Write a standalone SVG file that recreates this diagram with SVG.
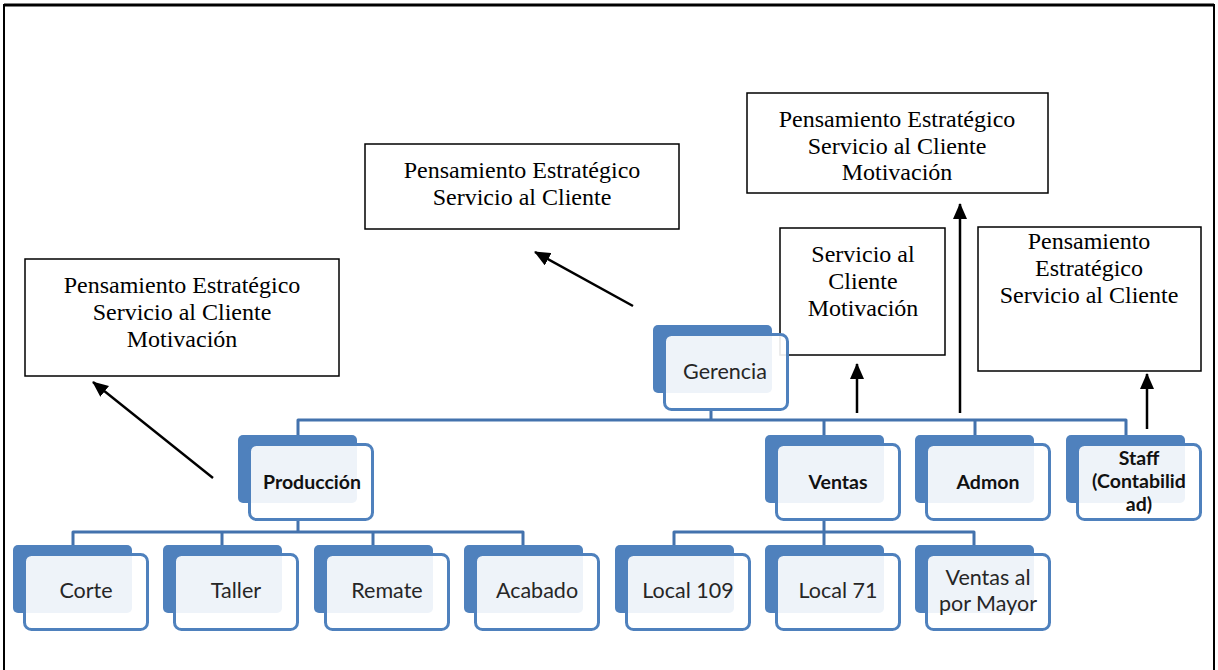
<svg xmlns="http://www.w3.org/2000/svg" width="1218" height="670" viewBox="0 0 1218 670">
<defs>
<style>
.bk{fill:#4f81bd}
.fr{fill:#ffffff;fill-opacity:0.9;stroke:#4f81bd;stroke-width:3}
.nt{font-family:Lato,"Open Sans",sans-serif;font-size:21.5px;fill:#262626;text-anchor:middle}
.mt{font-family:Lato,"Open Sans",sans-serif;font-size:19.5px;font-weight:bold;fill:#111;text-anchor:middle}
.bus{fill:none;stroke:#4372ad;stroke-width:3;stroke-linejoin:round}
.box{fill:#fff;stroke:#000;stroke-width:1.5}
.bt{font-family:"Liberation Serif","Times New Roman",serif;font-size:24px;fill:#000;text-anchor:middle}
.ar{stroke:#000;stroke-width:2.5;fill:none;marker-end:url(#ah)}
</style>
<marker id="ah" markerUnits="userSpaceOnUse" markerWidth="16" markerHeight="14" refX="15" refY="7" orient="auto">
<path d="M0,0 L16,7 L0,14 Z" fill="#000"/>
</marker>
</defs>
<rect x="0" y="0" width="1218" height="670" fill="#fff"/>
<path d="M4,676 V5 H1214 V676" fill="none" stroke="#000" stroke-width="2"/>
<line x1="4" y1="5" x2="1214" y2="5" stroke="#000" stroke-width="3"/>

<g id="connectors">
<path class="bus" d="M298,435 V420 H1126 V435 M711,410 V420 M824,420 V435 M975,420 V435"/>
<path class="bus" d="M73,545 V532 H523 V545 M222,532 V545 M373,532 V545 M298,521 V532"/>
<path class="bus" d="M674,545 V532 H974 V545 M824,532 V545 M824,521 V532"/>
<line class="ar" x1="213" y1="478" x2="93" y2="382"/>
<line class="ar" x1="633" y1="306" x2="535" y2="252"/>
<line class="ar" x1="857" y1="413" x2="857" y2="364"/>
<line class="ar" x1="960" y1="413" x2="960" y2="204"/>
<line class="ar" x1="1147" y1="429" x2="1147" y2="374"/>
</g>

<g id="box-produccion-skills">
<rect class="box" x="25" y="259" width="314" height="117"/>
<text class="bt" x="182" y="293">Pensamiento Estratégico</text>
<text class="bt" x="182" y="320">Servicio al Cliente</text>
<text class="bt" x="182" y="347">Motivación</text>
</g>
<g id="box-gerencia-skills">
<rect class="box" x="365" y="144" width="314" height="85"/>
<text class="bt" x="522" y="178">Pensamiento Estratégico</text>
<text class="bt" x="522" y="205">Servicio al Cliente</text>
</g>
<g id="box-admon-skills">
<rect class="box" x="747" y="93" width="301" height="100"/>
<text class="bt" x="897" y="127">Pensamiento Estratégico</text>
<text class="bt" x="897" y="153.5">Servicio al Cliente</text>
<text class="bt" x="897" y="180">Motivación</text>
</g>
<g id="box-ventas-skills">
<rect class="box" x="780" y="228" width="165" height="127"/>
<text class="bt" x="863" y="262">Servicio al</text>
<text class="bt" x="863" y="289">Cliente</text>
<text class="bt" x="863" y="316">Motivación</text>
</g>
<g id="box-staff-skills">
<rect class="box" x="978" y="227" width="223" height="144"/>
<text class="bt" x="1089" y="249">Pensamiento</text>
<text class="bt" x="1089" y="276">Estratégico</text>
<text class="bt" x="1089" y="303">Servicio al Cliente</text>
</g>

<g id="n-gerencia">
<rect class="bk" x="653" y="325" width="119" height="68" rx="5"/>
<rect class="fr" x="664.5" y="334.5" width="123" height="75" rx="7"/>
<text class="nt" x="725" y="379">Gerencia</text>
</g>
<g id="n-produccion">
<rect class="bk" x="238" y="435" width="119" height="68" rx="5"/>
<rect class="fr" x="249.5" y="444.5" width="123" height="75" rx="7"/>
<text class="mt" x="312" y="489">Producción</text>
</g>
<g id="n-ventas">
<rect class="bk" x="765" y="435" width="119" height="68" rx="5"/>
<rect class="fr" x="776.5" y="444.5" width="123" height="75" rx="7"/>
<text class="mt" x="838" y="489">Ventas</text>
</g>
<g id="n-admon">
<rect class="bk" x="915" y="435" width="119" height="68" rx="5"/>
<rect class="fr" x="926.5" y="444.5" width="123" height="75" rx="7"/>
<text class="mt" x="988" y="489">Admon</text>
</g>
<g id="n-staff">
<rect class="bk" x="1066" y="435" width="119" height="68" rx="5"/>
<rect class="fr" x="1077.5" y="444.5" width="123" height="75" rx="7"/>
<text class="mt" x="1139" y="465">Staff</text>
<text class="mt" x="1139" y="488">(Contabilid</text>
<text class="mt" x="1139" y="511">ad)</text>
</g>
<g id="n-corte">
<rect class="bk" x="13" y="545" width="119" height="68" rx="5"/>
<rect class="fr" x="24.5" y="554.5" width="123" height="75" rx="7"/>
<text class="nt" x="86" y="598">Corte</text>
</g>
<g id="n-taller">
<rect class="bk" x="163" y="545" width="119" height="68" rx="5"/>
<rect class="fr" x="174.5" y="554.5" width="123" height="75" rx="7"/>
<text class="nt" x="236" y="598">Taller</text>
</g>
<g id="n-remate">
<rect class="bk" x="314" y="545" width="119" height="68" rx="5"/>
<rect class="fr" x="325.5" y="554.5" width="123" height="75" rx="7"/>
<text class="nt" x="387" y="598">Remate</text>
</g>
<g id="n-acabado">
<rect class="bk" x="464" y="545" width="119" height="68" rx="5"/>
<rect class="fr" x="475.5" y="554.5" width="123" height="75" rx="7"/>
<text class="nt" x="537" y="598">Acabado</text>
</g>
<g id="n-local109">
<rect class="bk" x="615" y="545" width="119" height="68" rx="5"/>
<rect class="fr" x="626.5" y="554.5" width="123" height="75" rx="7"/>
<text class="nt" x="688" y="598">Local 109</text>
</g>
<g id="n-local71">
<rect class="bk" x="765" y="545" width="119" height="68" rx="5"/>
<rect class="fr" x="776.5" y="554.5" width="123" height="75" rx="7"/>
<text class="nt" x="838" y="598">Local 71</text>
</g>
<g id="n-mayor">
<rect class="bk" x="915" y="545" width="119" height="68" rx="5"/>
<rect class="fr" x="926.5" y="554.5" width="123" height="75" rx="7"/>
<text class="nt" x="988" y="585">Ventas al</text>
<text class="nt" x="988" y="611">por Mayor</text>
</g>
</svg>
